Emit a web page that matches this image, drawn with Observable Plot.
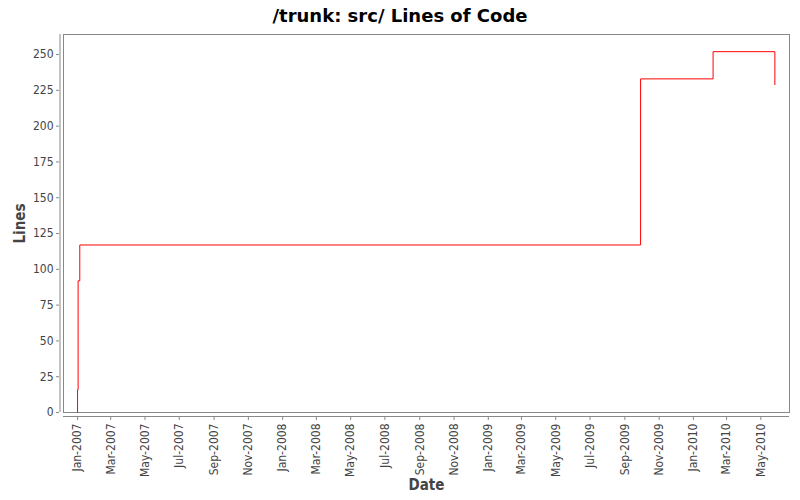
<!DOCTYPE html>
<html><head><meta charset="utf-8">
<script src="https://cdn.jsdelivr.net/npm/d3@7"></script>
<script src="https://cdn.jsdelivr.net/npm/@observablehq/plot@0.6"></script>
<style>
body{margin:0;background:#fff;}
#title{position:relative;width:800px;height:30px;font-family:"DejaVu Sans",sans-serif;font-weight:bold;font-size:18px;color:#000;}
#title span{position:absolute;left:0;right:0;top:5px;text-align:center;line-height:normal;white-space:nowrap;}
</style></head><body>
<div id="title"><span>/trunk: src/ Lines of Code</span></div>
<div id="chart"></div>
<script>
// Data (step chart of lines of code over time)
const dates = ["2007-01-01","2007-01-01","2007-01-02","2007-01-05","2009-09-29","2010-02-05","2010-05-26"];
const lineCounts = [0, 16, 92, 117, 233, 252, 229];
const xDomain = ["2006-12-07", "2010-06-21"];
const yDomain = [0, 264];
const yTicks = [0, 25, 50, 75, 100, 125, 150, 175, 200, 225, 250];
const xTickStart = "2007-01-01";
const xTickEnd = "2010-06-01";
const titleText = "/trunk: src/ Lines of Code";
const xLabel = "Date";
const yLabel = "Lines";

const parse = d3.utcParse("%Y-%m-%d");
const data = dates.map((d, i) => ({date: parse(d), value: lineCounts[i]}));
const xd = xDomain.map(parse);
const xTicks = d3.utcMonth.every(2).range(parse(xTickStart), parse(xTickEnd));
const fmt = d3.utcFormat("%b-%Y");
const tickFont = '"DejaVu Sans Condensed"';

const chart = Plot.plot({
  width: 800,
  height: 470,
  marginLeft: 63,
  marginRight: 11,
  marginTop: 4,
  marginBottom: 88,
  style: {fontFamily: tickFont, fontSize: "12px", color: "#444", background: "#fff"},
  x: {type: "utc", domain: xd},
  y: {domain: yDomain},
  marks: [
    Plot.frame({stroke: "#888"}),
    Plot.ruleX([xd[0]], {dx: -3.5, stroke: "#888"}),
    Plot.ruleY([0], {dy: 4, stroke: "#888"}),
    Plot.axisY({ticks: yTicks, tickSize: 3, dx: -4, tickPadding: 3, label: null, stroke: "#888", fill: "#444"}),
    Plot.axisX({ticks: xTicks, tickFormat: fmt, tickSize: 4, dy: 4, tickPadding: 3, tickRotate: -90, label: null, stroke: "#888", fill: "#444"}),
    Plot.line(data, {x: "date", y: "value", curve: "step-after", stroke: "#ff0000", strokeWidth: 1}),
    Plot.text([yLabel], {frameAnchor: "left", dx: -43, rotate: -90, textAnchor: "middle", lineAnchor: "middle", fontWeight: "bold", fontSize: 15, fill: "#444"}),
    Plot.text([xLabel], {frameAnchor: "bottom", dy: 73, textAnchor: "middle", lineAnchor: "middle", fontWeight: "bold", fontSize: 15, fill: "#444"})
  ]
});
document.getElementById("chart").appendChild(chart);
document.querySelector("#title span").textContent = titleText;
</script>
</body></html>
